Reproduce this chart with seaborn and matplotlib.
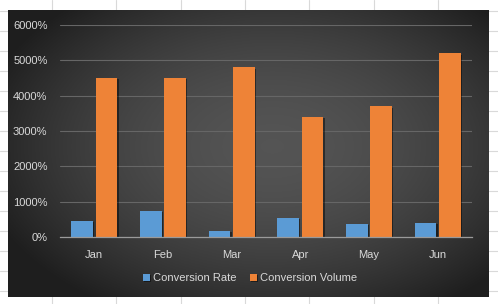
import numpy as np
import pandas as pd
import matplotlib
matplotlib.use("Agg")
import matplotlib.pyplot as plt
import matplotlib.patheffects as pe
from matplotlib.lines import Line2D
from matplotlib.ticker import FuncFormatter
import seaborn as sns

months = ["Jan", "Feb", "Mar", "Apr", "May", "Jun"]
conversion_rate = [450, 750, 170, 540, 370, 400]
conversion_volume = [4500, 4500, 4800, 3400, 3700, 5200]
y_ticks = [0, 1000, 2000, 3000, 4000, 5000, 6000]

df = pd.DataFrame({
    "month": months * 2,
    "value": conversion_rate + conversion_volume,
    "series": ["Conversion Rate"] * len(months) + ["Conversion Volume"] * len(months),
})

sns.set_style("white")
plt.rcParams["font.family"] = ["Liberation Sans", "DejaVu Sans"]

W, H = 498, 304
fig = plt.figure(figsize=(W / 100, H / 100), dpi=100)
fig.patch.set_facecolor("white")

# spreadsheet cell lines behind the chart
for x in np.arange(52, W, 64.3):
    fig.add_artist(Line2D([x / W, x / W], [0, 1], color="#d9d9d9", lw=0.8, zorder=-5))
for y in np.arange(11, H, 20):
    fig.add_artist(Line2D([0, 1], [1 - y / H, 1 - y / H], color="#d9d9d9", lw=0.8, zorder=-5))

# chart area with a radial dark gradient
bg = fig.add_axes([8 / W, 1 - 297 / H, 480 / W, 287 / H])
gx, gy = np.meshgrid(np.linspace(-1, 1, 300), np.linspace(-1, 1, 200))
r = np.clip(np.sqrt(((gx - 0.1) * 0.9) ** 2 + ((gy + 0.05) * 0.85) ** 2), 0, 1.4)
shade = 0.33 - 0.17 * r ** 1.8
img = np.dstack([shade, shade, shade])
bg.imshow(np.clip(img, 0.12, 1), aspect="auto", extent=[0, 1, 0, 1])
bg.set_axis_off()

ax = fig.add_axes([60 / W, 1 - 237 / H, 412 / W, 212 / H])
ax.patch.set_alpha(0)

sns.barplot(data=df, x="month", y="value", hue="series",
            palette=["#5B9BD5", "#EE8337"], width=0.71, gap=0.12,
            saturation=1, linewidth=0, edgecolor="none", ax=ax, legend=True)

for bar in ax.patches:
    bar.set_linewidth(0)
    bar.set_path_effects([pe.SimplePatchShadow(offset=(1, -1), shadow_rgbFace="black", alpha=0.45), pe.Normal()])

ax.set_xlim(-0.5, 5.5)
ax.set_ylim(0, 6000)
ax.set_yticks(y_ticks)
ax.yaxis.set_major_formatter(FuncFormatter(lambda v, p: f"{int(v)}%"))
ax.grid(axis="y", color="#666666", lw=0.8)
ax.set_axisbelow(True)
for s in ["top", "right", "left"]:
    ax.spines[s].set_visible(False)
ax.spines["bottom"].set_color("#9a9a9a")
ax.spines["bottom"].set_linewidth(0.9)
ax.tick_params(axis="both", length=0, colors="#d9d9d9", labelsize=8)
ax.tick_params(axis="y", pad=9)
ax.tick_params(axis="x", pad=9)
ax.set_xlabel("")
ax.set_ylabel("")

handles, labels = ax.get_legend_handles_labels()
for h in handles:
    h.set_linewidth(0)
ax.legend(handles, labels, loc="center", bbox_to_anchor=(250 / W, 1 - 278 / H),
          bbox_transform=fig.transFigure, ncol=2, frameon=False,
          handlelength=0.6, handleheight=0.6, handletextpad=0.3,
          columnspacing=1.2, fontsize=8, labelcolor="#d9d9d9")

fig.savefig("out.png", dpi=100)
